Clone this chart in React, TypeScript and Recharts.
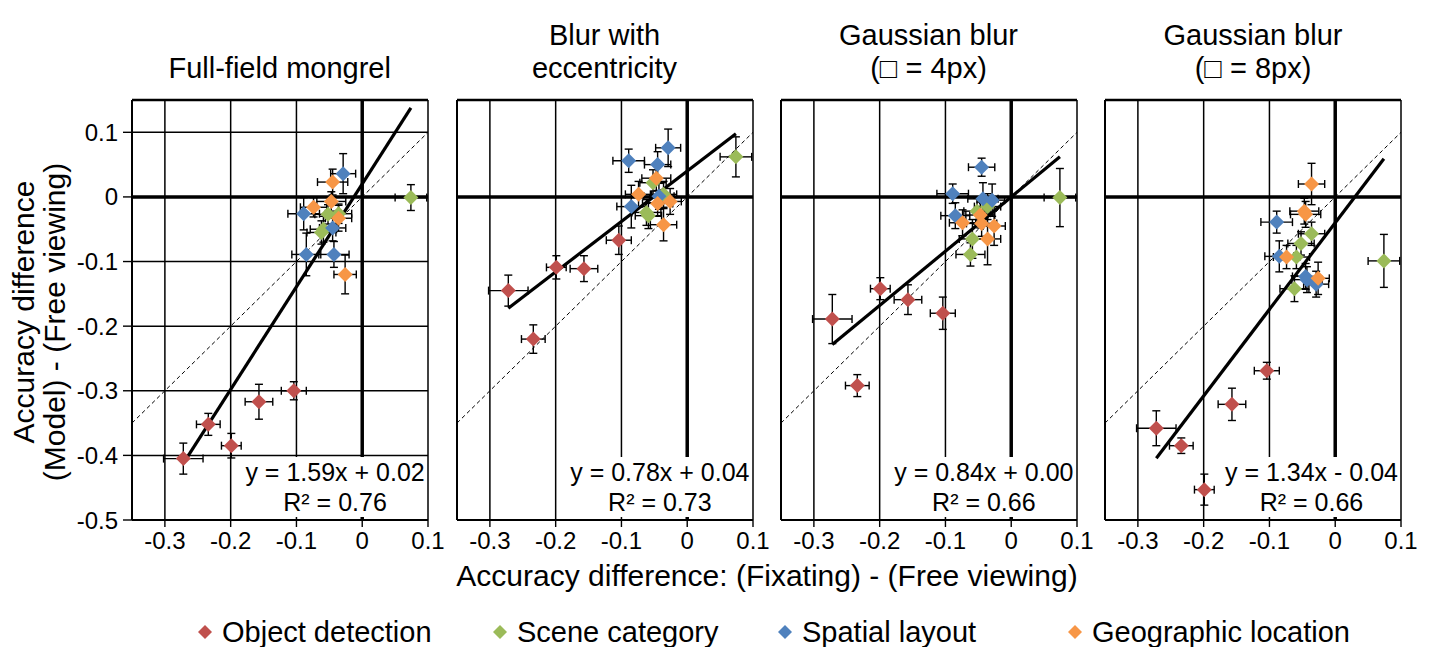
import React from 'react';
import { ScatterChart, Scatter, XAxis, YAxis, CartesianGrid, ReferenceLine, ErrorBar } from 'recharts';

// ---------- categories / labels ----------
const seriesNames = ['Object detection', 'Scene category', 'Spatial layout', 'Geographic location'];
const seriesColors = ['#C0504D', '#9BBB59', '#4F81BD', '#F79646'];
const panelTitles = [['Full-field mongrel'], ['Blur with', 'eccentricity'], ['Gaussian blur', '(\u25A1 = 4px)'], ['Gaussian blur', '(\u25A1 = 8px)']];
const xTicks = [-0.3, -0.2, -0.1, 0, 0.1];
const yTicks = [0.1, 0, -0.1, -0.2, -0.3, -0.4, -0.5];

// ---------- x values (fixating - free viewing), shared by all panels ----------
const objX = [-0.272, -0.234, -0.199, -0.157, -0.104];
const sceneX = [0.074, -0.036, -0.052, -0.059, -0.062];
const spatialX = [-0.089, -0.085, -0.045, -0.043, -0.029];
const geoX = [-0.074, -0.047, -0.045, -0.036, -0.026];

const objXErr = [0.03, 0.018, 0.015, 0.021, 0.019];
const sceneXErr = [0.024, 0.02, 0.02, 0.02, 0.022];
const spatialXErr = [0.024, 0.022, 0.02, 0.023, 0.019];
const geoXErr = [0.02, 0.022, 0.023, 0.02, 0.017];

// ---------- y values (model - free viewing) per panel: [obj, scene, spatial, geo] ----------
const mongrelY = [
  [-0.405, -0.352, -0.385, -0.317, -0.3],
  [-0.001, -0.026, -0.027, -0.05, -0.055],
  [-0.026, -0.089, -0.048, -0.089, 0.036],
  [-0.016, -0.007, 0.023, -0.033, -0.12],
];
const mongrelYErr = [
  [0.024, 0.017, 0.019, 0.027, 0.014],
  [0.02, 0.015, 0.015, 0.02, 0.018],
  [0.025, 0.033, 0.02, 0.02, 0.031],
  [0.015, 0.015, 0.02, 0.02, 0.03],
];
const eccY = [
  [-0.145, -0.22, -0.109, -0.111, -0.067],
  [0.062, 0.004, 0.022, -0.029, -0.024],
  [0.056, -0.015, 0.05, 0.001, 0.076],
  [0.004, 0.029, -0.01, -0.043, -0.007],
];
const eccYErr = [
  [0.024, 0.022, 0.018, 0.02, 0.022],
  [0.031, 0.02, 0.02, 0.02, 0.02],
  [0.018, 0.033, 0.02, 0.02, 0.029],
  [0.02, 0.02, 0.02, 0.025, 0.02],
];
const blur4Y = [
  [-0.189, -0.292, -0.142, -0.159, -0.18],
  [-0.001, -0.015, -0.022, -0.065, -0.089],
  [0.005, -0.029, 0.046, -0.003, -0.005],
  [-0.04, -0.028, -0.041, -0.065, -0.045],
];
const blur4YErr = [
  [0.038, 0.017, 0.017, 0.023, 0.025],
  [0.045, 0.02, 0.02, 0.03, 0.018],
  [0.015, 0.02, 0.014, 0.025, 0.025],
  [0.02, 0.02, 0.02, 0.04, 0.03],
];
const blur8Y = [
  [-0.358, -0.385, -0.453, -0.321, -0.269],
  [-0.099, -0.057, -0.072, -0.093, -0.142],
  [-0.039, -0.092, -0.123, -0.128, -0.135],
  [-0.093, -0.022, -0.027, 0.02, -0.126],
];
const blur8YErr = [
  [0.027, 0.012, 0.024, 0.025, 0.013],
  [0.041, 0.018, 0.018, 0.018, 0.02],
  [0.017, 0.024, 0.02, 0.02, 0.02],
  [0.018, 0.02, 0.02, 0.032, 0.025],
];

// ---------- trend lines ----------
const trendSlopes = [1.59, 0.78, 0.84, 1.34];
const trendIntercepts = [0.02, 0.04, 0.0, -0.04];
const trendR2 = [0.76, 0.73, 0.66, 0.66];

const panelY = [mongrelY, eccY, blur4Y, blur8Y];
const panelYErr = [mongrelYErr, eccYErr, blur4YErr, blur8YErr];
const seriesX = [objX, sceneX, spatialX, geoX];
const seriesXErr = [objXErr, sceneXErr, spatialXErr, geoXErr];

// ---------- layout ----------
const FONT = "'Liberation Sans', Arial, sans-serif";
const plotLefts = [131.7, 456.5, 780.5, 1105];
const PLOT_W = 296;
const PLOT_H = 420;
const PLOT_TOP = 100;
const Y_AXIS_W = 60;
const MARGIN_TOP = 10;
const X_AXIS_H = 50;
const RIGHT_PAD = 20;

const diamond = (color: string, r: number) => (p: any) => {
  const { cx, cy } = p;
  if (cx == null || cy == null) return <g />;
  return <path d={`M${cx},${cy - r}L${cx + r},${cy}L${cx},${cy + r}L${cx - r},${cy}Z`} fill={color} />;
};

function Panel({ idx }: { idx: number }) {
  const allX = seriesX.flat();
  const xMin = Math.min(...allX);
  const xMax = Math.max(...allX);
  const m = trendSlopes[idx];
  const b = trendIntercepts[idx];
  const left = plotLefts[idx] - Y_AXIS_W;
  return (
    <div style={{ position: 'absolute', left, top: PLOT_TOP - MARGIN_TOP }}>
      <ScatterChart
        width={Y_AXIS_W + PLOT_W + RIGHT_PAD}
        height={MARGIN_TOP + PLOT_H + X_AXIS_H}
        margin={{ top: MARGIN_TOP, right: RIGHT_PAD, bottom: 0, left: 0 }}
      >
        <CartesianGrid stroke="#000" strokeWidth={1.5} />
        <XAxis
          type="number"
          dataKey="x"
          domain={[-0.35, 0.1]}
          ticks={xTicks}
          allowDataOverflow
          height={X_AXIS_H}
          tickSize={7}
          tickMargin={5}
          stroke="#000"
          axisLine={{ stroke: '#000', strokeWidth: 2 }}
          tickLine={{ stroke: '#000', strokeWidth: 1.4 }}
          tick={{ fill: '#000', fontSize: 24, fontFamily: FONT }}
        />
        <YAxis
          type="number"
          dataKey="y"
          domain={[-0.5, 0.15]}
          ticks={yTicks}
          allowDataOverflow
          width={Y_AXIS_W}
          tickSize={9}
          tickMargin={5}
          axisLine={{ stroke: '#000', strokeWidth: 2 }}
          tickLine={{ stroke: '#000', strokeWidth: 1.4 }}
          tick={idx === 0 ? { fill: '#000', fontSize: 24, fontFamily: FONT } : false}
        />
        <ReferenceLine y={0.15} stroke="#000" strokeWidth={2.5} />
        <ReferenceLine x={0} stroke="#000" strokeWidth={3.5} />
        <ReferenceLine y={0} stroke="#000" strokeWidth={3.5} />
        <ReferenceLine
          segment={[{ x: -0.35, y: -0.35 }, { x: 0.1, y: 0.1 }]}
          stroke="#000"
          strokeWidth={1}
          strokeDasharray="4 3"
        />
        {seriesNames.map((name, s) => {
          const data = seriesX[s].map((x, i) => ({
            x,
            y: panelY[idx][s][i],
            ex: seriesXErr[s][i],
            ey: panelYErr[idx][s][i],
          }));
          return (
            <Scatter key={name} name={name} data={data} isAnimationActive={false} shape={diamond(seriesColors[s], 7.5)}>
              <ErrorBar dataKey="ex" direction="x" width={4} stroke="#000" strokeWidth={1.4} isAnimationActive={false} />
              <ErrorBar dataKey="ey" direction="y" width={4} stroke="#000" strokeWidth={1.4} isAnimationActive={false} />
            </Scatter>
          );
        })}
        <ReferenceLine
          segment={[{ x: xMin, y: m * xMin + b }, { x: xMax, y: m * xMax + b }]}
          stroke="#000"
          strokeWidth={3.2}
        />
      </ScatterChart>
    </div>
  );
}

const fmtEq = (i: number) =>
  `y = ${trendSlopes[i].toFixed(2)}x ${trendIntercepts[i] < 0 ? '-' : '+'} ${Math.abs(trendIntercepts[i]).toFixed(2)}`;

export default function App() {
  return (
    <div style={{ position: 'absolute', left: 0, top: 0, width: 1435, height: 647, background: '#fff', overflow: 'hidden', fontFamily: FONT }}>
      {[0, 1, 2, 3].map((i) => (
        <Panel key={i} idx={i} />
      ))}
      {[0, 1, 2, 3].map((i) => (
        <div
          key={'eq' + i}
          style={{
            position: 'absolute',
            top: 457,
            right: 1435 - (plotLefts[i] + PLOT_W) + 2,
            background: '#fff',
            fontSize: 25,
            lineHeight: '30px',
            textAlign: 'center',
            color: '#000',
            whiteSpace: 'nowrap',
            padding: '0 1px',
          }}
        >
          <div>{fmtEq(i)}</div>
          <div>{`R\u00B2 = ${trendR2[i].toFixed(2)}`}</div>
        </div>
      ))}
      <svg width={1435} height={647} style={{ position: 'absolute', left: 0, top: 0, pointerEvents: 'none' }} fontFamily={FONT}>
        {panelTitles.map((lines, i) => {
          const cx = plotLefts[i] + PLOT_W / 2;
          return lines.map((t, k) => (
            <text
              key={i + '-' + k}
              x={cx}
              y={lines.length === 1 ? 78 : k === 0 ? 45 : 78}
              textAnchor="middle"
              fontSize={29}
              fill="#000"
            >
              {t}
            </text>
          ));
        })}
        <text transform="translate(34,312) rotate(-90)" textAnchor="middle" fontSize={30} fill="#000">
          Accuracy difference
        </text>
        <text transform="translate(65,322) rotate(-90)" textAnchor="middle" fontSize={30} fill="#000">
          (Model) - (Free viewing)
        </text>
        <text x={767} y={586} textAnchor="middle" fontSize={30} fill="#000">
          Accuracy difference: (Fixating) - (Free viewing)
        </text>
        {seriesNames.map((name, s) => {
          const lx = [205, 500, 785, 1075][s];
          const ly = 632;
          const r = 7;
          return (
            <g key={name}>
              <path d={`M${lx},${ly - r}L${lx + r},${ly}L${lx},${ly + r}L${lx - r},${ly}Z`} fill={seriesColors[s]} />
              <text x={lx + 17} y={ly + 10} fontSize={29} fill="#000">
                {name}
              </text>
            </g>
          );
        })}
      </svg>
    </div>
  );
}
